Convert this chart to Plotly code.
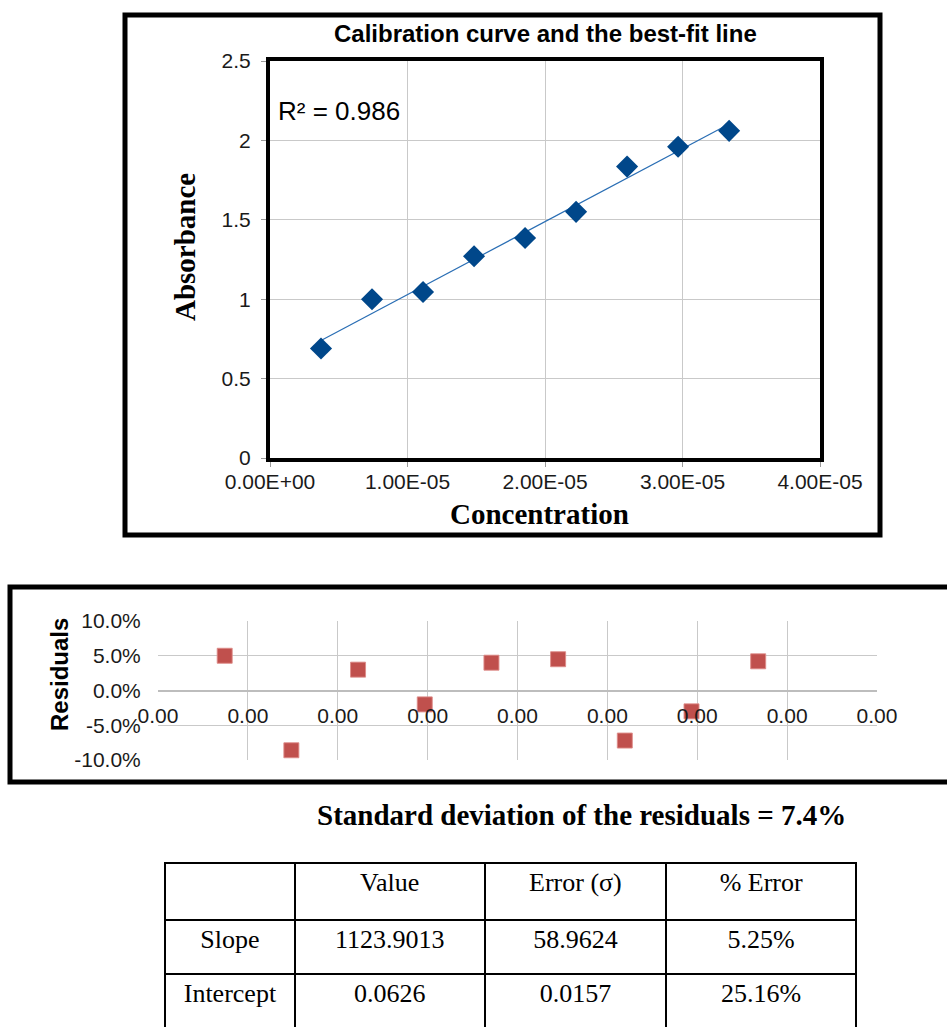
import numpy as np
import plotly.graph_objects as go

# ---- data -------------------------------------------------------------
concentration = [3.71e-6, 7.42e-6, 1.113e-5, 1.484e-5, 1.855e-5,
                 2.226e-5, 2.597e-5, 2.968e-5, 3.339e-5]
absorbance = [0.69, 1.00, 1.045, 1.27, 1.385, 1.55, 1.835, 1.96, 2.06]
residuals = [0.050, -0.086, 0.030, -0.020, 0.040, 0.045, -0.072, -0.030, 0.042]

abs_ticks = [0, 0.5, 1, 1.5, 2, 2.5]
conc_ticks = [0.0, 1e-5, 2e-5, 3e-5, 4e-5]
resid_x_ticks = [i * 5e-6 for i in range(9)]
resid_y_ticks = [-0.10, -0.05, 0.0, 0.05, 0.10]

r2_label = "R² = 0.986"
std_label = "Standard deviation of the residuals = 7.4%"

table_header = ["", "Value", "Error (σ)", "% Error"]
table_params = ["Slope", "Intercept"]
table_values = ["1123.9013", "0.0626"]
table_errors = ["58.9624", "0.0157"]
table_pct = ["5.25%", "25.16%"]

# ---- page geometry (pixels -> paper fractions) -------------------------
W, H = 947, 1028


def px(x):
    return x / W


def py(y):
    return 1 - y / H


SANS = "Liberation Sans, Arial, sans-serif"
SERIF = "Liberation Serif, Times New Roman, serif"

# least-squares best-fit line through the calibration points
slope, intercept = np.polyfit(concentration, absorbance, 1)
fit_x = [concentration[0], concentration[-1]]
fit_y = [slope * v + intercept for v in fit_x]

fig = go.Figure()

fig.add_trace(go.Scatter(
    x=fit_x, y=fit_y, mode="lines",
    line=dict(color="#2A6EB4", width=1.2),
    xaxis="x", yaxis="y", showlegend=False, hoverinfo="skip",
))
fig.add_trace(go.Scatter(
    x=concentration, y=absorbance, mode="markers",
    marker=dict(symbol="diamond", size=17, color="#00478A",
                line=dict(width=0)),
    xaxis="x", yaxis="y", showlegend=False,
))
fig.add_trace(go.Scatter(
    x=concentration, y=residuals, mode="markers",
    marker=dict(symbol="square", size=15, color="#C0504D",
                line=dict(width=1, color="rgba(222,140,136,0.9)")),
    xaxis="x2", yaxis="y2", showlegend=False,
))

# calibration-curve table
fig.add_trace(go.Table(
    domain=dict(x=[px(165), px(857)], y=[0, py(863)]),
    columnwidth=[130, 190, 182, 190],
    header=dict(values=table_header, height=57, align="center",
                fill_color="white",
                line=dict(color="black", width=2),
                font=dict(family=SERIF, size=26, color="black")),
    cells=dict(values=[table_params, table_values, table_errors, table_pct],
               height=54, align="center", fill_color="white",
               line=dict(color="black", width=2),
               font=dict(family=SERIF, size=26, color="black")),
))

tick_font = dict(family=SANS, size=21, color="#1a1a1a")
resid_tick_font = dict(family=SANS, size=21, color="#1a1a1a")

fig.update_layout(
    width=W, height=H,
    margin=dict(l=0, r=0, t=0, b=0, pad=0, autoexpand=False),
    paper_bgcolor="white", plot_bgcolor="white",
    showlegend=False,
    xaxis=dict(
        domain=[px(270), px(820)], range=[0, 4e-5], anchor="y",
        tickmode="array", tickvals=conc_ticks,
        ticktext=[f"{v:.2E}" for v in conc_ticks],
        showgrid=True, gridcolor="#C9C9C9", gridwidth=1,
        showline=True, linecolor="black", linewidth=4, mirror=True,
        ticks="outside", ticklen=5, tickcolor="#9a9a9a",
        ticklabelstandoff=-3, automargin=False,
        zeroline=False, tickfont=tick_font,
    ),
    yaxis=dict(
        domain=[py(458), py(61)], range=[0, 2.5], anchor="x",
        tickmode="array", tickvals=abs_ticks,
        ticktext=[f"{v:g}" for v in abs_ticks],
        showgrid=True, gridcolor="#C9C9C9", gridwidth=1,
        showline=True, linecolor="black", linewidth=4, mirror=True,
        ticks="outside", ticklen=5, tickcolor="#9a9a9a",
        ticklabelstandoff=6, automargin=False,
        zeroline=False, tickfont=tick_font,
    ),
    xaxis2=dict(
        domain=[px(158), px(877)], range=[0, 4.0000001e-5],
        anchor="free", position=py(690.5),
        tickmode="array", tickvals=resid_x_ticks,
        ticktext=[f"{v:.2f}" for v in resid_x_ticks],
        showgrid=True, gridcolor="#C9C9C9", gridwidth=1,
        showline=True, linecolor="#BDBDBD", linewidth=1,
        ticks="outside", ticklen=6, tickcolor="rgba(0,0,0,0)",
        automargin=False,
        zeroline=False, tickfont=resid_tick_font,
    ),
    yaxis2=dict(
        domain=[py(760), py(621)], range=[-0.10, 0.10], anchor="x2",
        tickmode="array", tickvals=resid_y_ticks,
        ticktext=[f"{v:.1%}" for v in resid_y_ticks],
        showgrid=True, gridcolor="#C9C9C9", gridwidth=1,
        showline=False,
        ticks="outside", ticklen=12, tickcolor="rgba(0,0,0,0)",
        automargin=False,
        zeroline=True, zerolinecolor="#BDBDBD", zerolinewidth=1,
        tickfont=resid_tick_font,
    ),
    shapes=[
        # outer frame of the calibration chart
        dict(type="rect", xref="paper", yref="paper",
             x0=px(125), x1=px(880), y0=py(535), y1=py(15),
             line=dict(color="black", width=5), fillcolor="rgba(0,0,0,0)"),
        # outer frame of the residual chart
        dict(type="rect", xref="paper", yref="paper",
             x0=px(10), x1=px(965), y0=py(782), y1=py(587),
             line=dict(color="black", width=5), fillcolor="rgba(0,0,0,0)"),
    ],
    annotations=[
        dict(text="<b>Calibration curve and the best-fit line</b>",
             xref="paper", yref="paper", x=px(545), y=py(34),
             xanchor="center", yanchor="middle", showarrow=False,
             font=dict(family=SANS, size=24, color="black")),
        dict(text="<b>Absorbance</b>", textangle=-90,
             xref="paper", yref="paper", x=px(185), y=py(247),
             xanchor="center", yanchor="middle", showarrow=False,
             font=dict(family=SERIF, size=29, color="black")),
        dict(text="<b>Concentration</b>",
             xref="paper", yref="paper", x=px(539), y=py(514),
             xanchor="center", yanchor="middle", showarrow=False,
             font=dict(family=SERIF, size=29, color="black")),
        dict(text=r2_label,
             xref="paper", yref="paper", x=px(276), y=py(111),
             xanchor="left", yanchor="middle", showarrow=False,
             font=dict(family=SANS, size=26, color="black")),
        dict(text="<b>Residuals</b>", textangle=-90,
             xref="paper", yref="paper", x=px(59), y=py(675),
             xanchor="center", yanchor="middle", showarrow=False,
             font=dict(family=SANS, size=24, color="black")),
        dict(text=f"<b>{std_label}</b>",
             xref="paper", yref="paper", x=px(581), y=py(815),
             xanchor="center", yanchor="middle", showarrow=False,
             font=dict(family=SERIF, size=29, color="black")),
    ],
)

fig.write_html("out.html")
